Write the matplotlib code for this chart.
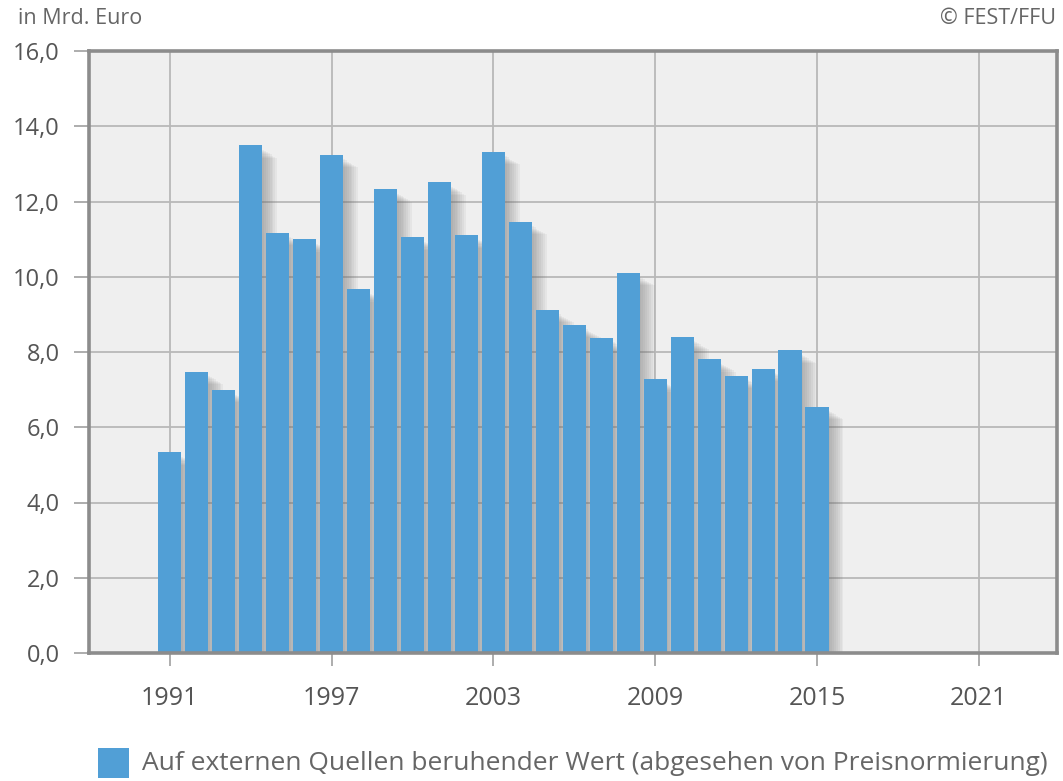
import matplotlib
matplotlib.use("Agg")
import matplotlib.pyplot as plt
from matplotlib.patches import Rectangle
from matplotlib.ticker import FuncFormatter

# Annual values in billion euro
years = list(range(1991, 2016))
values = [5.33, 7.48, 6.99, 13.49, 11.17, 11.00, 13.24, 9.67, 12.33, 11.05,
          12.51, 11.10, 13.32, 11.46, 9.12, 8.72, 8.38, 10.11, 7.28, 8.41,
          7.81, 7.37, 7.56, 8.04, 6.55]
x_ticks = [1991, 1997, 2003, 2009, 2015, 2021]
y_ticks = [0, 2, 4, 6, 8, 10, 12, 14, 16]
unit_label = "in Mrd. Euro"
source_label = "\u00a9 FEST/FFU"
series_label = "Auf externen Quellen beruhender Wert (abgesehen von Preisnormierung)"

BAR_COLOR = "#519fd6"
TEXT_COLOR = "#555555"
FRAME_COLOR = "#8c8c8c"

plt.rcParams["font.family"] = ["Open Sans", "DejaVu Sans"]

W, H = 1063, 781
fig = plt.figure(figsize=(W / 100, H / 100), dpi=100)
fig.patch.set_facecolor("white")

left, right, top, bottom = 89, 1057, 51, 653
ax = fig.add_axes([left / W, 1 - bottom / H, (right - left) / W, (bottom - top) / H])
ax.set_facecolor("#efefef")
ax.set_xlim(1988.0, 2023.9)
ax.set_ylim(0, 16)

# grid
ax.set_xticks(x_ticks)
ax.set_yticks(y_ticks)
ax.grid(True, color="#b8b8b8", linewidth=1.3, zorder=0)
ax.set_axisbelow(True)

# soft drop shadow behind each bar
for i in range(8):
    dx = 0.06 + i * 0.07
    dy = 0.12 + i * 0.03
    ax.bar([y + dx for y in years], [v - dy for v in values], width=0.86,
           color="#6a6a6a", alpha=0.07, linewidth=0, zorder=1)

ax.bar(years, values, width=0.86, color=BAR_COLOR, linewidth=0, zorder=2)

for side in ax.spines.values():
    side.set_color(FRAME_COLOR)
    side.set_linewidth(2.6)
    side.set_zorder(3)

ax.yaxis.set_major_formatter(FuncFormatter(lambda v, p: f"{v:.1f}".replace(".", ",")))
ax.tick_params(axis="y", length=11, width=1.2, color="#a0a0a0", labelsize=17,
               labelcolor=TEXT_COLOR, pad=10)
ax.tick_params(axis="x", length=9, width=1.2, color="#a0a0a0", labelsize=18,
               labelcolor=TEXT_COLOR, pad=15)

fig.text(18 / W, 1 - 19 / H, unit_label, fontsize=15.5, color="#666666",
         ha="left", va="center")
fig.text(1056 / W, 1 - 19 / H, source_label, fontsize=15.5, color="#666666",
         ha="right", va="center")

# legend
fig.patches.append(Rectangle((98 / W, 1 - 778 / H), 31 / W, 30 / H,
                             transform=fig.transFigure, facecolor=BAR_COLOR,
                             edgecolor="none"))
fig.text(142 / W, 1 - 763 / H, series_label, fontsize=19, color="#666666",
         ha="left", va="center")

fig.savefig("out.png", dpi=100)
